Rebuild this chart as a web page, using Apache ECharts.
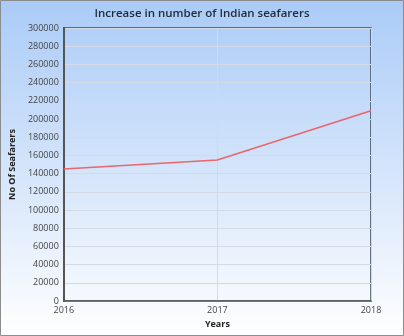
<!DOCTYPE html>
<html>
<head>
<meta charset="utf-8">
<style>
  html, body { margin: 0; padding: 0; background: #fff; }
  #chart { width: 404px; height: 336px; }
</style>
<script src="https://cdn.jsdelivr.net/npm/echarts@6/dist/echarts.min.js"></script>
</head>
<body>
<div id="chart"></div>
<script>
// Seafarer counts by year
const years = ['2016', '2017', '2018'];
const seafarers = [145000, 155000, 209000];

const chart = echarts.init(document.getElementById('chart'), null, { renderer: 'canvas' });

const labelFont = { fontFamily: 'Open Sans', fontSize: 9, color: '#444' };

chart.setOption({
  animation: false,
  graphic: [{
    type: 'rect',
    z: -10,
    silent: true,
    shape: { x: 0.5, y: 0.5, width: 403, height: 335 },
    style: {
      fill: new echarts.graphic.LinearGradient(0, 0, 0, 1, [
        { offset: 0, color: '#aacbf7' },
        { offset: 0.55, color: '#d8e7fb' },
        { offset: 1, color: '#ffffff' }
      ]),
      stroke: '#8c8c8c',
      lineWidth: 1
    }
  }],
  title: {
    text: 'Increase in number of Indian seafarers',
    left: 'center',
    top: 3,
    textStyle: { fontFamily: 'Open Sans', fontSize: 11.5, fontWeight: 600, color: '#1e2a36' }
  },
  grid: {
    left: 54, right: 33, top: 28, bottom: 35,
    show: true,
    borderColor: '#3b4a5e',
    borderWidth: 1.5,
    backgroundColor: 'transparent'
  },
  xAxis: {
    type: 'category',
    data: years,
    boundaryGap: false,
    name: 'Years',
    nameLocation: 'middle',
    nameGap: 18,
    nameTextStyle: { fontFamily: 'Open Sans', fontSize: 9, fontWeight: 'bold', color: '#222' },
    axisLine: { lineStyle: { color: '#555', width: 1.5 } },
    axisTick: { show: false },
    axisLabel: Object.assign({ margin: 5 }, labelFont),
    splitLine: { show: true, lineStyle: { color: '#d3dae3', width: 1 } }
  },
  yAxis: {
    type: 'value',
    min: 0,
    max: 300000,
    interval: 20000,
    name: 'No Of Seafarers',
    nameLocation: 'middle',
    nameGap: 43,
    nameRotate: 90,
    nameTextStyle: { fontFamily: 'Open Sans', fontSize: 9, fontWeight: 'bold', color: '#222' },
    axisLine: { show: true, lineStyle: { color: '#555', width: 2 } },
    axisTick: { show: false },
    axisLabel: Object.assign({ margin: 5, formatter: v => String(v) }, labelFont),
    splitLine: { show: true, lineStyle: { color: '#d3dae3', width: 1 } }
  },
  series: [{
    type: 'line',
    data: seafarers,
    symbol: 'none',
    lineStyle: { color: '#e8666c', width: 1.6 },
    itemStyle: { color: '#e8666c' }
  }]
});
</script>
</body>
</html>
